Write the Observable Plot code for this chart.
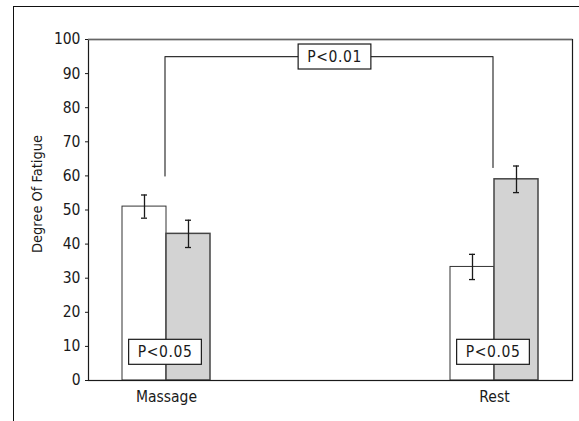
<!DOCTYPE html>
<html><head><meta charset="utf-8">
<script src="https://cdn.jsdelivr.net/npm/d3@7"></script>
<script src="https://cdn.jsdelivr.net/npm/@observablehq/plot@0.6"></script>
<style>
html,body{margin:0;padding:0;background:#fff;width:579px;height:421px;overflow:hidden;}
#wrap{position:relative;width:579px;height:421px;}
#outer{position:absolute;left:12.5px;top:5.5px;width:700px;height:700px;border-top:1.5px solid #111;border-left:1.5px solid #111;box-sizing:border-box;}
#chart{position:absolute;left:0;top:0;}
</style></head><body><div id="wrap"><div id="outer"></div><div id="chart"></div></div>
<script>
// ---- data ----
const groups = ["Massage", "Rest"];
const whiteValues = [51, 33.3];
const whiteErrors = [3.4, 3.7];
const grayValues = [43, 59];
const grayErrors = [4, 3.9];
const yTicks = [0, 10, 20, 30, 40, 50, 60, 70, 80, 90, 100];
const yLabel = "Degree Of Fatigue";
const groupTests = ["P<0.05", "P<0.05"];
const groupTestLevel = 8.4;
const bracketX = ["Massage", "Massage", "Rest", "Rest"];
const bracketY = [60, 95, 95, 62.5];
const bracketTest = "P<0.01";
const bracketLevel = 95;

// ---- font choice (condensed face if present) ----
function hasFont(f) {
  const c = document.createElement("canvas").getContext("2d");
  c.font = "20px monospace";
  const a = c.measureText("Massage 0.01 Fatigue").width;
  c.font = `20px '${f}', monospace`;
  return Math.abs(c.measureText("Massage 0.01 Fatigue").width - a) > 0.5;
}
const fontOptions = [
  {family: "Liberation Sans Narrow", size: 16.5, label: 15.5, ls: 0.8, pls: 1.8},
  {family: "DejaVu Sans Condensed", size: 15.5, label: 14.5, ls: 0, pls: 0.6},
  {family: "Arial Narrow", size: 16.5, label: 15.5, ls: 0.8, pls: 1.8},
  {family: "Liberation Sans", size: 15, label: 14.5, ls: 0, pls: 1}
];
const F = fontOptions.find(o => hasFont(o.family)) || fontOptions[3];

// ---- tables ----
const whiteRows = groups.map((g, i) => ({group: g, value: whiteValues[i], err: whiteErrors[i]}));
const grayRows = groups.map((g, i) => ({group: g, value: grayValues[i], err: grayErrors[i]}));
const capsOf = rows => rows.flatMap(d => [{group: d.group, y: d.value - d.err}, {group: d.group, y: d.value + d.err}]);
const bracketRows = bracketX.map((x, i) => ({x, y: bracketY[i]}));
const testRows = groups.map((g, i) => ({group: g, label: groupTests[i], y: groupTestLevel}));

const half = 44, cap = 3;
const ink = "#1a1a1a";

const plot = Plot.plot({
  width: 579, height: 421,
  marginLeft: 88, marginRight: 7, marginTop: 39, marginBottom: 41,
  style: {fontFamily: `'${F.family}', 'Liberation Sans', sans-serif`, fontSize: F.size + "px", letterSpacing: F.ls + "px", background: "transparent", color: ink},
  x: {domain: groups, paddingInner: 0.7323, paddingOuter: 0.1024, label: null},
  y: {domain: [0, 100], label: null},
  marks: [
    Plot.barY(whiteRows, {x: "group", y: "value", fill: "white", stroke: "#333", strokeWidth: 1, insetRight: half}),
    Plot.barY(grayRows, {x: "group", y: "value", fill: "#d3d3d3", stroke: "#444", strokeWidth: 1.5, insetLeft: half}),
    Plot.ruleX(whiteRows, {x: "group", y1: d => d.value - d.err, y2: d => d.value + d.err, dx: -half / 2, stroke: ink, strokeWidth: 1.3}),
    Plot.ruleX(grayRows, {x: "group", y1: d => d.value - d.err, y2: d => d.value + d.err, dx: half / 2, stroke: ink, strokeWidth: 1.3}),
    Plot.tickY(capsOf(whiteRows), {x: "group", y: "y", insetLeft: half / 2 - cap, insetRight: half + half / 2 - cap, stroke: ink, strokeWidth: 1.3}),
    Plot.tickY(capsOf(grayRows), {x: "group", y: "y", insetLeft: half + half / 2 - cap, insetRight: half / 2 - cap, stroke: ink, strokeWidth: 1.3}),
    Plot.frame({stroke: ink, strokeWidth: 1.2}),
    Plot.ruleY([100], {stroke: "#666", strokeWidth: 1.6}),
    Plot.line(bracketRows, {x: "x", y: "y", stroke: "#333", strokeWidth: 1.2, dx: -1.5}),
    Plot.text([bracketTest], {y: [bracketLevel], dx: 4, fill: ink}),
    Plot.text(testRows, {x: "group", y: "y", text: "label", dx: -1.5, fill: ink}),
    Plot.axisY({ticks: yTicks, tickSize: 3, tickPadding: 5, label: null, tickFormat: d => d}),
    Plot.axisX({tickSize: 0, tickPadding: 10, label: null}),
    Plot.text([yLabel], {frameAnchor: "left", textAnchor: "middle", lineAnchor: "middle", rotate: -90, dx: -51, dy: -16, fontSize: F.label, fill: ink})
  ]
});
document.getElementById("chart").appendChild(plot);

// boxes around the significance labels
d3.select(plot).selectAll("text").each(function () {
  const t = d3.select(this);
  if (!/^P</.test(t.text())) return;
  t.style("letter-spacing", F.pls + "px");
  const b = this.getBBox();
  const tr = this.getAttribute("transform") || "";
  d3.select(this.parentNode).insert("rect", () => this)
    .attr("transform", tr)
    .attr("x", b.x - 9).attr("y", b.y - 3.5)
    .attr("width", b.width + 18).attr("height", b.height + 7)
    .attr("fill", "white").attr("stroke", ink).attr("stroke-width", 1.2);
});
</script></body></html>
